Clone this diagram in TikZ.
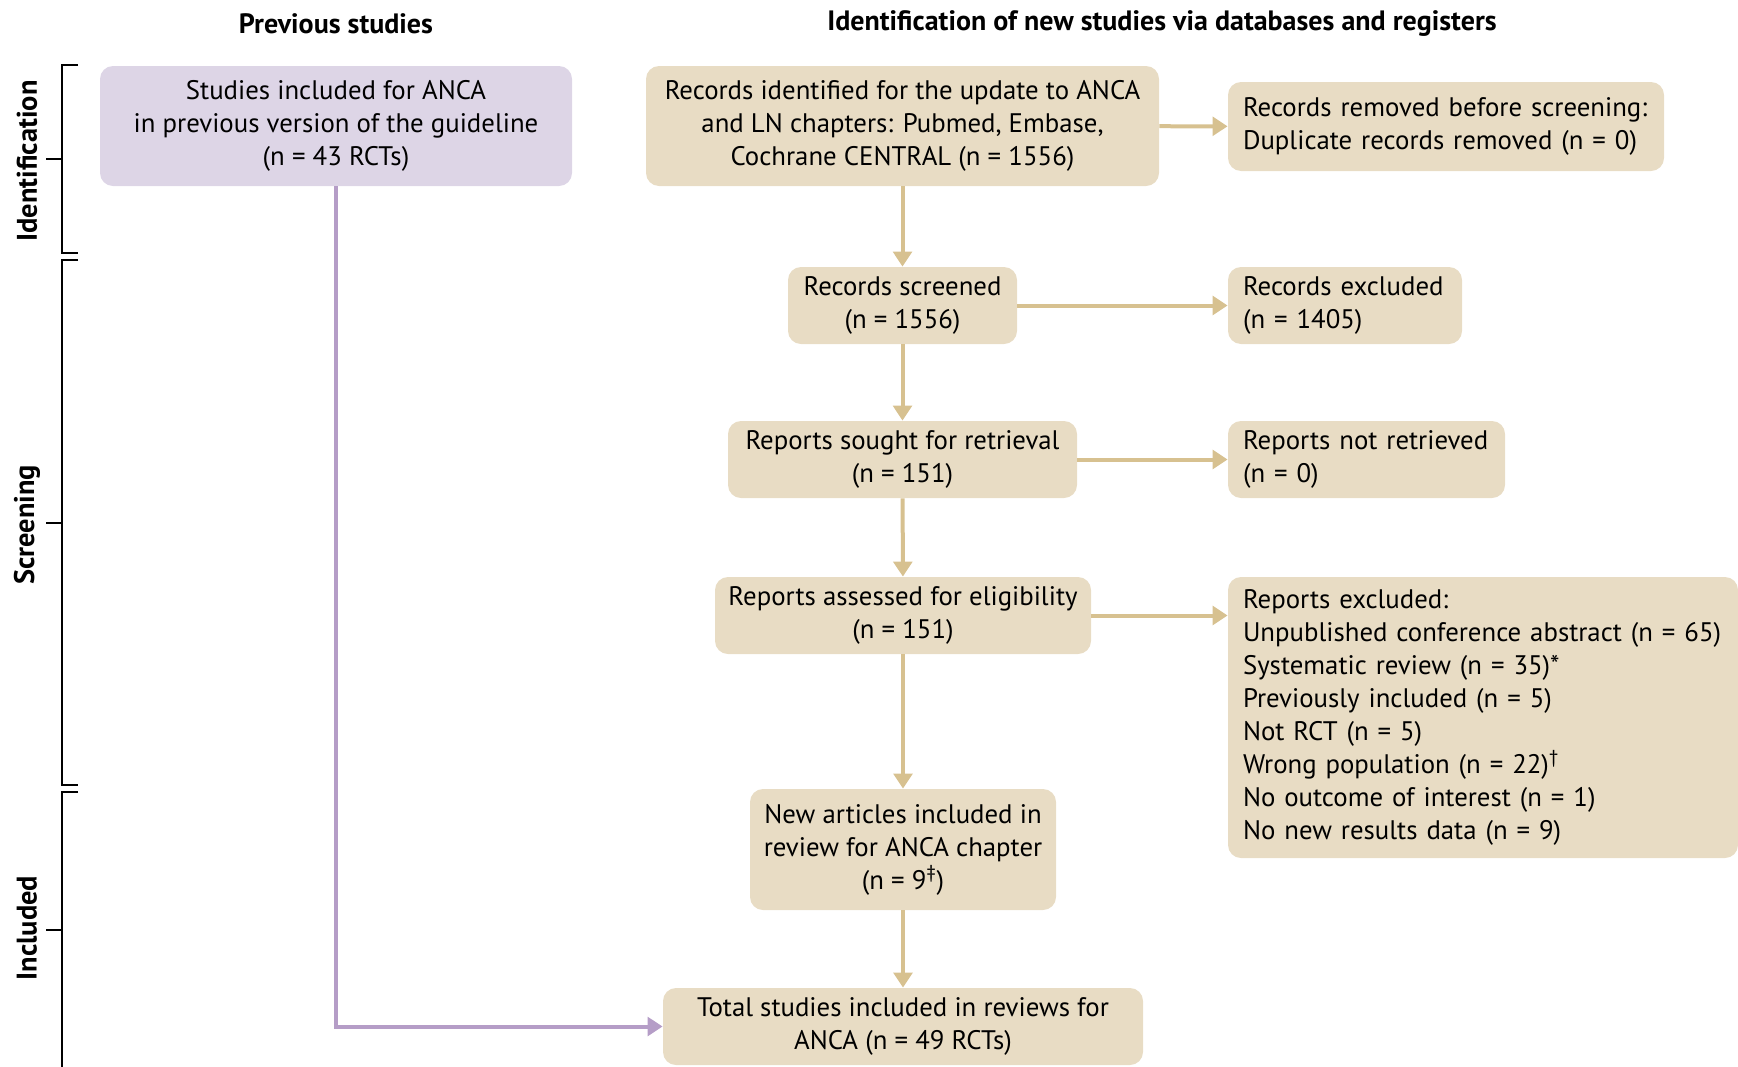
\documentclass[tikz,border=0pt]{standalone}
\usepackage{fontspec}
\setmainfont{PT Sans}
\usetikzlibrary{arrows.meta, positioning}
\definecolor{tanfill}{RGB}{232,220,196}
\definecolor{tanline}{RGB}{215,193,144}
\definecolor{lilacfill}{RGB}{221,213,230}
\definecolor{lilacline}{RGB}{181,157,199}

\begin{document}
\begin{tikzpicture}[x=0.5pt, y=-0.5pt,
    box/.style={rounded corners=6.5pt, fill=tanfill, align=center, inner sep=0pt,
      font=\fontsize{13.4}{16.5}\selectfont},
    sidebox/.style={box, align=left, inner xsep=7.5pt, text width=#1},
    flow/.style={draw=tanline, line width=2pt, -{Triangle[width=9.3pt,length=7.5pt]}},
    bracket/.style={draw=black, line width=0.9pt},
    phase/.style={rotate=90, font=\fontsize{14.2}{16}\selectfont\bfseries},
    head/.style={font=\fontsize{14}{16}\selectfont\bfseries}]
    \useasboundingbox (0,0) rectangle (1738,1066);

    % headings
    \node[head] (hprev) at (336,24) {Previous studies};
    \node[head] (hnew) at (1162,24) {Identification of new studies via databases and registers};

    % phase brackets
    \draw[bracket] (78,65) -- (62,65) -- (62,253) -- (78,253);
    \draw[bracket] (46,159) -- (62,159);
    \draw[bracket] (78,260) -- (62,260) -- (62,785) -- (78,785);
    \draw[bracket] (46,523) -- (62,523);
    \draw[bracket] (78,792) -- (62,792) -- (62,1070);
    \draw[bracket] (46,930) -- (62,930);
    \node[phase] (pid) at (27,161) {Identification};
    \node[phase] (psc) at (27,525) {Screening};
    \node[phase] (pin) at (27,928) {Included};

    % boxes
    \node[box, fill=lilacfill, minimum width=236pt, minimum height=60pt] (prev) at (336,126)
        {Studies included for ANCA\\in previous version of the guideline\\(n = 43 RCTs)};
    \node[box, minimum width=256.5pt, minimum height=60pt] (ident) at (902.5,126)
        {Records identified for the update to ANCA\\and LN chapters: Pubmed, Embase,\\Cochrane CENTRAL (n = 1556)};
    \node[sidebox=203pt, minimum height=44.5pt] (removed) at (1446,126.5)
        {Records removed before screening:\\Duplicate records removed (n = 0)};
    \node[box, minimum width=114.5pt, minimum height=38.5pt] (screened) at (902.5,305.5)
        {Records screened\\(n = 1556)};
    \node[sidebox=102pt, minimum height=38.5pt] (excluded) at (1345,305.5)
        {Records excluded\\(n = 1405)};
    \node[box, minimum width=174.5pt, minimum height=38.5pt] (sought) at (902.5,459.5)
        {Reports sought for retrieval\\(n = 151)};
    \node[sidebox=123.5pt, minimum height=38.5pt] (notret) at (1366.5,459.5)
        {Reports not retrieved\\(n = 0)};
    \node[box, minimum width=188pt, minimum height=38.5pt] (assessed) at (903,615.5)
        {Reports assessed for eligibility\\(n = 151)};
    \node[sidebox=240pt, minimum height=140.5pt] (repexcl) at (1483,717.5)
        {Reports excluded:\\Unpublished conference abstract (n = 65)\\Systematic review (n = 35)*\\Previously included (n = 5)\\Not RCT (n = 5)\\Wrong population (n = 22)\textsuperscript{\textdagger}\\No outcome of interest (n = 1)\\No new results data (n = 9)};
    \node[box, minimum width=153pt, minimum height=60.5pt] (newart) at (903,849.5)
        {New articles included in\\review for ANCA chapter\\(n = 9\textsuperscript{\textdaggerdbl})};
    \node[box, minimum width=240pt, minimum height=38.5pt] (total) at (903,1026.5)
        {Total studies included in reviews for\\ANCA (n = 49 RCTs)};

    % connectors
    \draw[flow] (ident) -- (removed);
    \draw[flow] (ident) -- (screened);
    \draw[flow] (screened) -- (excluded.west |- screened);
    \draw[flow] (screened) -- (sought);
    \draw[flow] (sought) -- (notret.west |- sought);
    \draw[flow] (sought) -- (assessed);
    \draw[flow] (assessed) -- (repexcl.west |- assessed);
    \draw[flow] (assessed) -- (newart);
    \draw[flow] (newart) -- (total);
    \draw[flow, draw=lilacline] (prev.south) |- (total.west);
\end{tikzpicture}
\end{document}
